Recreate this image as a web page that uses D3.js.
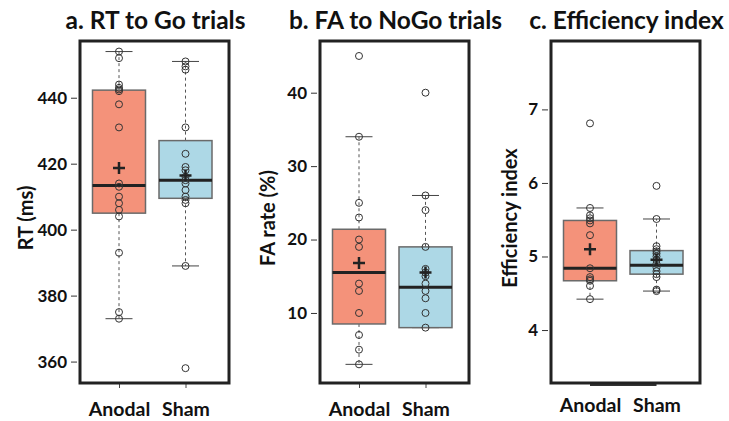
<!DOCTYPE html>
<html>
<head>
<meta charset="utf-8">
<script src="https://cdn.jsdelivr.net/npm/d3@7"></script>
<style>
    body { margin: 0; background: #fff; }
    svg text { font-family: Lato, "Open Sans", sans-serif; font-weight: bold; fill: #111; }
</style>
</head>
<body>
<div id="chart"></div>
<script>
// groups shown in every panel
const groups = ["Anodal", "Sham"];
const groupColors = ["#f4927a", "#add8e6"];

// a. RT to Go trials (ms)
const rtAnodal = [454, 452, 444, 443, 442.5, 442, 438, 431, 414, 413, 410, 408, 406, 404, 393, 375, 373];
const rtSham = [451, 449.5, 448.5, 431, 423, 419, 418, 416, 415, 414, 412, 410, 409, 408, 389, 358];
// [lower whisker, q1, median, q3, upper whisker, mean]
const rtStatsAnodal = [373, 405, 413.4, 442.3, 454, 418.7];
const rtStatsSham = [389, 409.5, 415, 427, 451, 416.4];
const rtTicks = [360, 380, 400, 420, 440];

// b. FA to NoGo trials (%)
const faAnodal = [45, 34, 25, 23, 20, 19, 14, 13, 10, 7, 5, 3];
const faSham = [40, 26, 24, 19, 16, 15.5, 15, 14, 13, 12, 10, 8];
const faStatsAnodal = [3, 8.5, 15.5, 21.4, 34, 16.8];
const faStatsSham = [8, 8, 13.5, 19, 26, 15.5];
const faTicks = [10, 20, 30, 40];

// c. Efficiency index
const effAnodal = [6.81, 5.66, 5.56, 5.52, 5.49, 5.45, 5.29, 4.84, 4.72, 4.69, 4.67, 4.6, 4.42];
const effSham = [5.96, 5.51, 5.14, 5.1, 5.07, 5.04, 5.0, 4.95, 4.9, 4.85, 4.8, 4.76, 4.72, 4.55, 4.53];
const effStatsAnodal = [4.42, 4.67, 4.84, 5.49, 5.66, 5.10];
const effStatsSham = [4.53, 4.76, 4.88, 5.08, 5.51, 4.955];
const effTicks = [4, 5, 6, 7];

const w = 729;
const h = 421;
const frameTop = 41;
const frameBottom = 383;
const frameWidth = 149;

const svg = d3.select("#chart")
    .append("svg")
    .attr("width", w)
    .attr("height", h);

const panels = [
    {
        title: "a. RT to Go trials", yLabel: "RT (ms)", left: 80, labelX: 33,
        domain: [353.5, 457.2], ticks: rtTicks,
        points: [rtAnodal, rtSham], stats: [rtStatsAnodal, rtStatsSham], baseLine: false
    },
    {
        title: "b. FA to NoGo trials", yLabel: "FA rate (%)", left: 320, labelX: 275,
        domain: [0.46, 47.04], ticks: faTicks,
        points: [faAnodal, faSham], stats: [faStatsAnodal, faStatsSham], baseLine: false
    },
    {
        title: "c. Efficiency index", yLabel: "Efficiency index", left: 551, labelX: 517,
        domain: [3.28, 7.93], ticks: effTicks,
        points: [effAnodal, effSham], stats: [effStatsAnodal, effStatsSham], baseLine: true
    }
];

panels.forEach(drawPanel);

function drawPanel(p) {
    const g = svg.append("g");

    const xScale = d3.scalePoint()
        .domain(groups)
        .range([p.left + 39, p.left + 105.5]);

    const yScale = d3.scaleLinear()
        .domain(p.domain)
        .range([frameBottom, frameTop]);

    const boxW = 53;
    const capW = 27;

    // y axis
    const yAxis = d3.axisLeft(yScale)
        .tickValues(p.ticks)
        .tickFormat(d3.format("d"))
        .tickSize(6)
        .tickPadding(4);

    const ax = g.append("g")
        .attr("transform", "translate(" + (p.left - 3) + ",0)")
        .call(yAxis);
    ax.select(".domain").remove();
    ax.selectAll("line").attr("stroke", "#333").attr("stroke-width", 1);
    ax.selectAll("text")
        .style("font-size", "17px")
        .style("font-family", "Lato, sans-serif")
        .style("font-weight", "bold")
        .attr("fill", "#111");

    // x axis
    const xAxis = d3.axisBottom(xScale)
        .tickSize(p.baseLine ? 0 : 4)
        .tickPadding(14);

    const bx = g.append("g")
        .attr("transform", "translate(0," + (frameBottom + 1) + ")")
        .call(xAxis);
    bx.select(".domain").remove();
    bx.selectAll("line").attr("stroke", "#444");
    bx.selectAll("text")
        .style("font-size", "19.5px")
        .style("font-family", "Lato, sans-serif")
        .style("font-weight", "bold")
        .attr("fill", "#111");

    if (p.baseLine) {
        g.append("line")
            .attr("x1", xScale("Anodal"))
            .attr("x2", xScale("Sham"))
            .attr("y1", frameBottom + 2)
            .attr("y2", frameBottom + 2)
            .attr("stroke", "#333")
            .attr("stroke-width", 2);
    }

    groups.forEach(function (grp, i) {
        const s = p.stats[i];
        const cx = xScale(grp);

        // dashed whiskers
        g.append("line")
            .attr("x1", cx).attr("x2", cx)
            .attr("y1", yScale(s[3])).attr("y2", yScale(s[4]))
            .attr("stroke", "#555")
            .attr("stroke-dasharray", "3,3");
        g.append("line")
            .attr("x1", cx).attr("x2", cx)
            .attr("y1", yScale(s[1])).attr("y2", yScale(s[0]))
            .attr("stroke", "#555")
            .attr("stroke-dasharray", "3,3");

        // whisker caps
        [s[0], s[4]].forEach(function (v) {
            g.append("line")
                .attr("x1", cx - capW / 2).attr("x2", cx + capW / 2)
                .attr("y1", yScale(v)).attr("y2", yScale(v))
                .attr("stroke", "#444")
                .attr("stroke-width", 1);
        });

        // box
        g.append("rect")
            .attr("x", cx - boxW / 2)
            .attr("y", yScale(s[3]))
            .attr("width", boxW)
            .attr("height", yScale(s[1]) - yScale(s[3]))
            .attr("fill", groupColors[i])
            .attr("stroke", "#6a6a6a")
            .attr("stroke-width", 1.5);

        // median
        g.append("line")
            .attr("x1", cx - boxW / 2).attr("x2", cx + boxW / 2)
            .attr("y1", yScale(s[2])).attr("y2", yScale(s[2]))
            .attr("stroke", "#222")
            .attr("stroke-width", 3);

        // raw points
        g.selectAll(".pt" + i)
            .data(p.points[i])
            .enter()
            .append("circle")
            .attr("cx", cx)
            .attr("cy", function (d) {
                return yScale(d);
            })
            .attr("r", 3.5)
            .attr("fill", "none")
            .attr("stroke", "#333")
            .attr("stroke-width", 1);

        // mean marker
        const my = yScale(s[5]);
        g.append("path")
            .attr("d", "M" + (cx - 6) + "," + my + "H" + (cx + 6) + "M" + cx + "," + (my - 6) + "V" + (my + 6))
            .attr("stroke", "#222")
            .attr("stroke-width", 2.5);
    });

    // frame
    g.append("rect")
        .attr("x", p.left)
        .attr("y", frameTop)
        .attr("width", frameWidth)
        .attr("height", frameBottom - frameTop)
        .attr("fill", "none")
        .attr("stroke", "#222")
        .attr("stroke-width", 3);

    // titles
    g.append("text")
        .attr("x", p.left + frameWidth / 2 + 1)
        .attr("y", 29)
        .attr("text-anchor", "middle")
        .style("font-size", "24.5px")
        .text(p.title);

    g.append("text")
        .attr("transform", "translate(" + p.labelX + "," + 218 + ") rotate(-90)")
        .attr("text-anchor", "middle")
        .style("font-size", "20px")
        .text(p.yLabel);
}
</script>
</body>
</html>
